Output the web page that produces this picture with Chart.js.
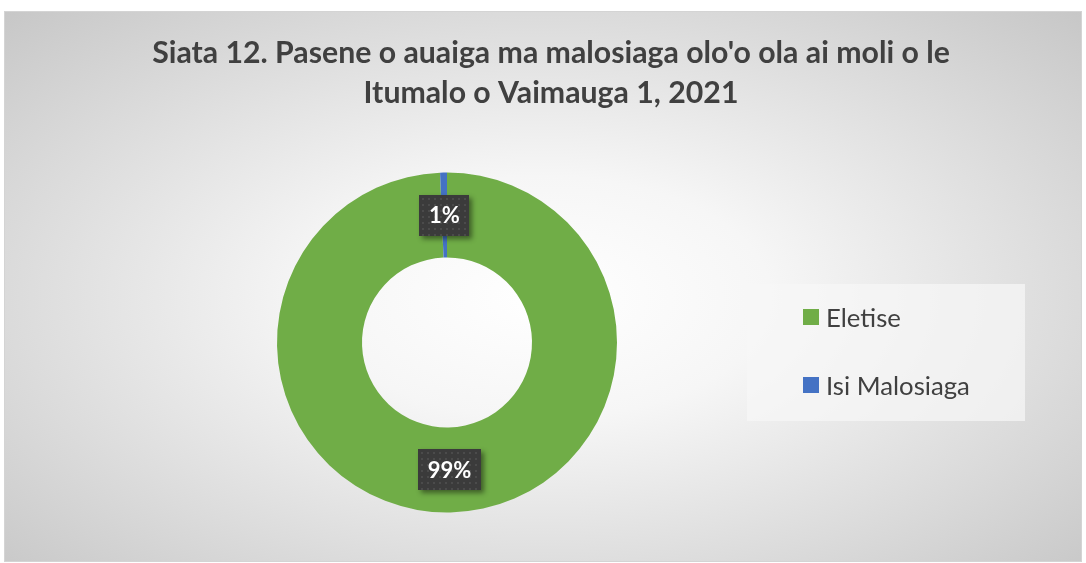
<!DOCTYPE html>
<html>
<head>
<meta charset="utf-8">
<script src="https://cdn.jsdelivr.net/npm/chart.js@4"></script>
<style>
  body { margin: 0; background: #fff; width: 1086px; height: 563px; overflow: hidden; position: relative; font-family: Lato, sans-serif; }
  #frame {
    position: absolute; left: 5px; top: 12px; width: 1076px; height: 549px;
    box-shadow: 0 0 0 1px #d4d4d4;
    background: radial-gradient(ellipse farthest-corner at 50% 52%, #ffffff 0%, #f6f6f6 30%, #c7c7c7 100%);
  }
  #chart { position: absolute; left: 0; top: 0; }
  #legend { position: absolute; left: 742px; top: 272px; width: 278px; height: 137px; background: rgba(247,247,247,0.72); }
  .item { position: absolute; left: 56px; height: 16px; display: flex; align-items: center; color: #404040; white-space: nowrap; }
  .swatch { width: 16px; height: 16px; margin-right: 7px; flex: none; }
</style>
</head>
<body>
<div id="frame">
  <canvas id="chart" width="1076" height="549"></canvas>
  <div id="legend"></div>
</div>
<script>
// chart data
const categories = ["Eletise", "Isi Malosiaga"];
const shares = [99.35, 0.65];
const sliceColors = ["#70ad47", "#4472c4"];
const titleLines = ["Siata 12. Pasene o auaiga ma malosiaga olo'o ola ai moli o le", "Itumalo o Vaimauga 1, 2021"];

// fit a font size so a string spans a given width
function fitSize(text, weight, family, targetWidth) {
    const c = document.createElement("canvas").getContext("2d");
    c.font = weight + " 100px " + family;
    return 100 * targetWidth / c.measureText(text).width;
}

const titleSize = fitSize(titleLines[0], "bold", "Lato", 798);
const legendSize = fitSize("Isi Malosiaga", "normal", "Lato", 144);

// html legend built from the same arrays
const legend = document.getElementById("legend");
categories.forEach((name, i) => {
    const row = document.createElement("div");
    row.className = "item";
    row.style.top = (25 + i * 68) + "px";
    row.style.fontSize = legendSize + "px";
    row.innerHTML = '<span class="swatch" style="background:' + sliceColors[i] + '"></span><span></span>';
    row.lastChild.textContent = name;
    legend.appendChild(row);
});

// keep the doughnut on the left part, leaving room for the legend
const donutArea = {
    id: "donutArea",
    afterLayout(chart) {
        const a = chart.chartArea;
        a.left = 0;
        a.right = 884;
        a.top = 160.5;
        a.bottom = 500.5;
        a.width = a.right - a.left;
        a.height = a.bottom - a.top;
    }
};

// percentage boxes like the excel data labels
const pctLabels = {
    id: "pctLabels",
    afterDatasetsDraw(chart) {
        const ctx = chart.ctx;
        const data = chart.data.datasets[0].data;
        const total = data.reduce((a, b) => a + b, 0);
        chart.getDatasetMeta(0).data.forEach((arc, i) => {
            const p = arc.tooltipPosition();
            const txt = Math.round(data[i] / total * 100) + "%";
            ctx.save();
            ctx.font = "bold 22px Lato";
            const w = Math.round(ctx.measureText(txt).width + 19);
            const h = 41;
            const x = Math.round(p.x - w / 2), y = Math.round(p.y - h / 2);
            ctx.shadowColor = "rgba(0,0,0,0.45)";
            ctx.shadowBlur = 5;
            ctx.shadowOffsetX = 3;
            ctx.shadowOffsetY = 3;
            ctx.fillStyle = "#3b3b3b";
            ctx.fillRect(x, y, w, h);
            ctx.shadowColor = "transparent";
            ctx.fillStyle = "#4b4b4b";
            for (let dx = 3; dx < w - 1; dx += 6) {
                for (let dy = 3; dy < h - 1; dy += 6) {
                    ctx.fillRect(x + dx, y + dy, 2, 2);
                }
            }
            ctx.fillStyle = "#ffffff";
            ctx.textAlign = "center";
            ctx.textBaseline = "middle";
            ctx.fillText(txt, p.x, p.y + 1);
            ctx.restore();
        });
    }
};

const ctx = document.getElementById("chart").getContext("2d");
const chart = new Chart(ctx, {
    type: "doughnut",
    data: {
        labels: categories,
        datasets: [{
            data: shares,
            backgroundColor: sliceColors,
            borderWidth: 0
        }]
    },
    options: {
        responsive: false,
        animation: false,
        cutout: "50%",
        layout: { padding: { left: 16 } },
        plugins: {
            legend: { display: false },
            tooltip: { enabled: false },
            title: {
                display: true,
                text: titleLines,
                color: "#404040",
                font: { family: "Lato", weight: "bold", size: titleSize, lineHeight: 40 / titleSize },
                padding: { top: 21, bottom: 40 }
            }
        }
    },
    plugins: [donutArea, pctLabels]
});
</script>
</body>
</html>
